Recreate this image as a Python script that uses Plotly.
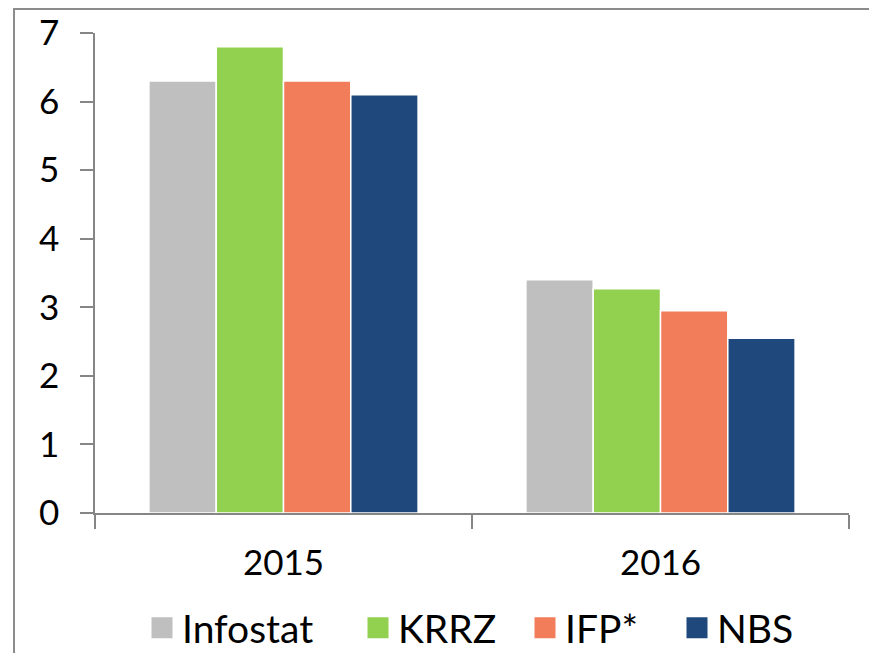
import plotly.graph_objects as go

years = ["2015", "2016"]
series = ["Infostat", "KRRZ", "IFP*", "NBS"]
infostat = [6.3, 3.4]
krrz = [6.8, 3.27]
ifp = [6.3, 2.95]
nbs = [6.1, 2.55]
colors = ["#BFBFBF", "#92D050", "#F17D5A", "#1F497D"]
yticks = [0, 1, 2, 3, 4, 5, 6, 7]

FONT = "Lato, Open Sans, sans-serif"
AXC = "#868686"

# body has an 8px margin in the page; account for it
W, H = 869, 645
l, r, t, b = 87, 28, 25, 140
pw, ph = W - l - r, H - t - b
def px(x): return (x - l) / pw
def py(y): return (H - b - y) / ph

legend_ids = ["legend", "legend2", "legend3", "legend4"]
legend_left = [152, 368, 535, 687]   # page x of each swatch

fig = go.Figure()
for name, vals, c in zip(series, [infostat, krrz, ifp, nbs], colors):
    fig.add_trace(go.Bar(x=years, y=vals, name=name, marker_color=c,
                         marker_line=dict(color="white", width=1.5),
                         showlegend=False, legendgroup=name))
# legend swatches (larger squares than the default bar legend symbol)
for name, c, lg in zip(series, colors, legend_ids):
    fig.add_trace(go.Scatter(x=[years[0]], y=[None], mode="markers", name=name,
                             legendgroup=name, legend=lg,
                             marker=dict(symbol="square", size=16, color=c,
                                         line=dict(color=c, width=5))))

legends = {}
for lg, xl in zip(legend_ids, legend_left):
    legends[lg] = dict(orientation="h", x=px(xl - 8 - 10), xanchor="left",
                       y=py(628 - 8), yanchor="middle",
                       font=dict(size=39, family=FONT), itemsizing="trace",
                       itemwidth=30, bgcolor="rgba(0,0,0,0)")

fig.update_layout(
    width=W, height=H,
    margin=dict(l=l, r=r, t=t, b=b, autoexpand=False),
    paper_bgcolor="white", plot_bgcolor="white",
    barmode="group", bargap=0.286, bargroupgap=0,
    font=dict(family=FONT, color="black", size=35),
    showlegend=True,
    **legends,
    xaxis=dict(showline=True, linecolor=AXC, linewidth=1.5,
               ticks="outside", tickson="boundaries", ticklen=14, tickcolor=AXC,
               tickwidth=1.5, ticklabelstandoff=18,
               tickfont=dict(size=35, family=FONT), showgrid=False),
    yaxis=dict(range=[0, 7], tickvals=yticks, showline=True, linecolor=AXC,
               linewidth=1.5, ticks="outside", ticklen=13, tickcolor=AXC,
               tickwidth=1.5, ticklabelstandoff=14,
               tickfont=dict(size=35, family=FONT), showgrid=False, zeroline=False),
    shapes=[dict(type="rect", xref="paper", yref="paper",
                 x0=px(6), x1=px(900), y0=py(700), y1=py(1),
                 line=dict(color="#8C8C8C", width=2), layer="above")],
)

fig.write_html("out.html")
